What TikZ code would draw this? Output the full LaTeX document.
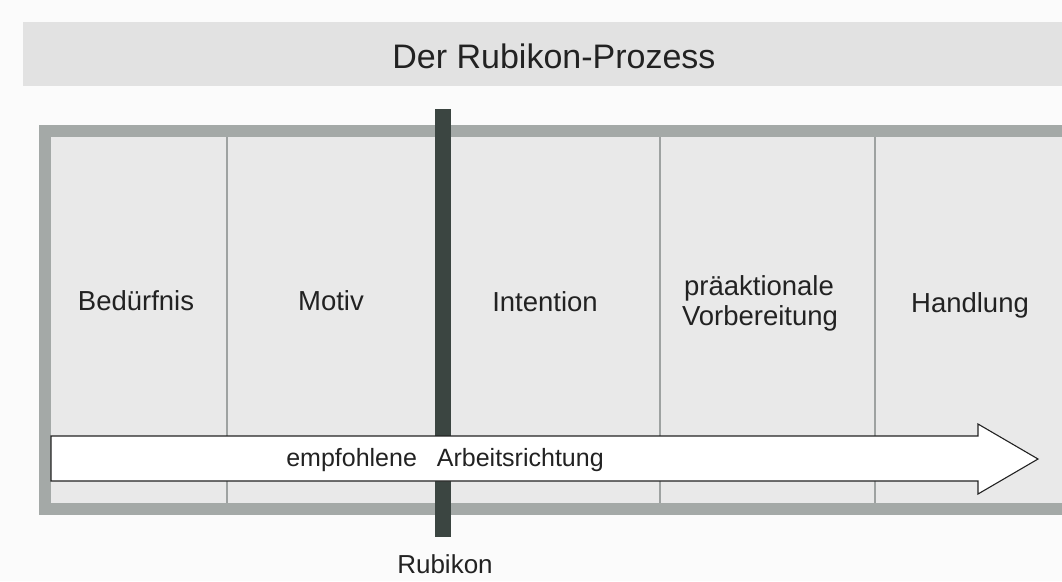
\documentclass[tikz,border=0pt]{standalone}
\usepackage{fontspec}
\setmainfont{Liberation Sans}
\begin{document}
\definecolor{paper}{HTML}{FBFBFB}
\definecolor{bandgray}{HTML}{E2E2E2}
\definecolor{framegray}{HTML}{A4A9A7}
\definecolor{cellgray}{HTML}{E9E9E9}
\definecolor{divgray}{HTML}{9EA2A1}
\definecolor{rubikon}{HTML}{3B4541}
\definecolor{ink}{HTML}{222222}
\begin{tikzpicture}[x=1pt,y=-1pt,
  titletext/.style={inner sep=0pt,anchor=base,text=ink,font=\fontsize{34}{40}\selectfont},
  phase/.style={inner sep=0pt,anchor=base,text=ink,font=\fontsize{27.5}{30}\selectfont},
  arrowtext/.style={inner sep=0pt,anchor=base,text=ink,font=\fontsize{25}{30}\selectfont},
  divider/.style={draw=divgray,line width=2pt},
  flowarrow/.style={draw=ink,line width=1.1pt,fill=white,line join=miter}]
\useasboundingbox (0,0) rectangle (1062,581);
\fill[paper] (0,0) rectangle (1062,581);

% title band
\fill[bandgray] (23,22) rectangle (1062,86);
\node[titletext] (title) at (554,68) {Der Rubikon-Prozess};

% frame with its five phase cells
\fill[framegray] (39,125) rectangle (1062,515);
\fill[cellgray] (51,137) rectangle (1062,503);
\foreach \xd in {227,445,660,875}
  \draw[divider] (\xd,137) -- (\xd,503);

\node[phase] (beduerfnis) at (136,310) {Bedürfnis};
\node[phase] (motiv) at (331,310) {Motiv};
\node[phase] (intention) at (545,311) {Intention};
\node[phase] (praeakt) at (759,295) {präaktionale};
\node[phase] (vorber) at (760,325) {Vorbereitung};
\node[phase] (handlung) at (970,312) {Handlung};

% the Rubikon line
\fill[rubikon] (435,109) rectangle (451,537);
\node[phase,font=\fontsize{26}{30}\selectfont] (rubikonlabel) at (445,573) {Rubikon};

% recommended direction of work
\draw[flowarrow] (51,436) -- (978,436) -- (978,424) -- (1038,459)
  -- (978,494) -- (978,481) -- (51,481) -- cycle;
\node[arrowtext] (richtung) at (445,466) {empfohlene\hspace{20pt}Arbeitsrichtung};
\end{tikzpicture}
\end{document}
